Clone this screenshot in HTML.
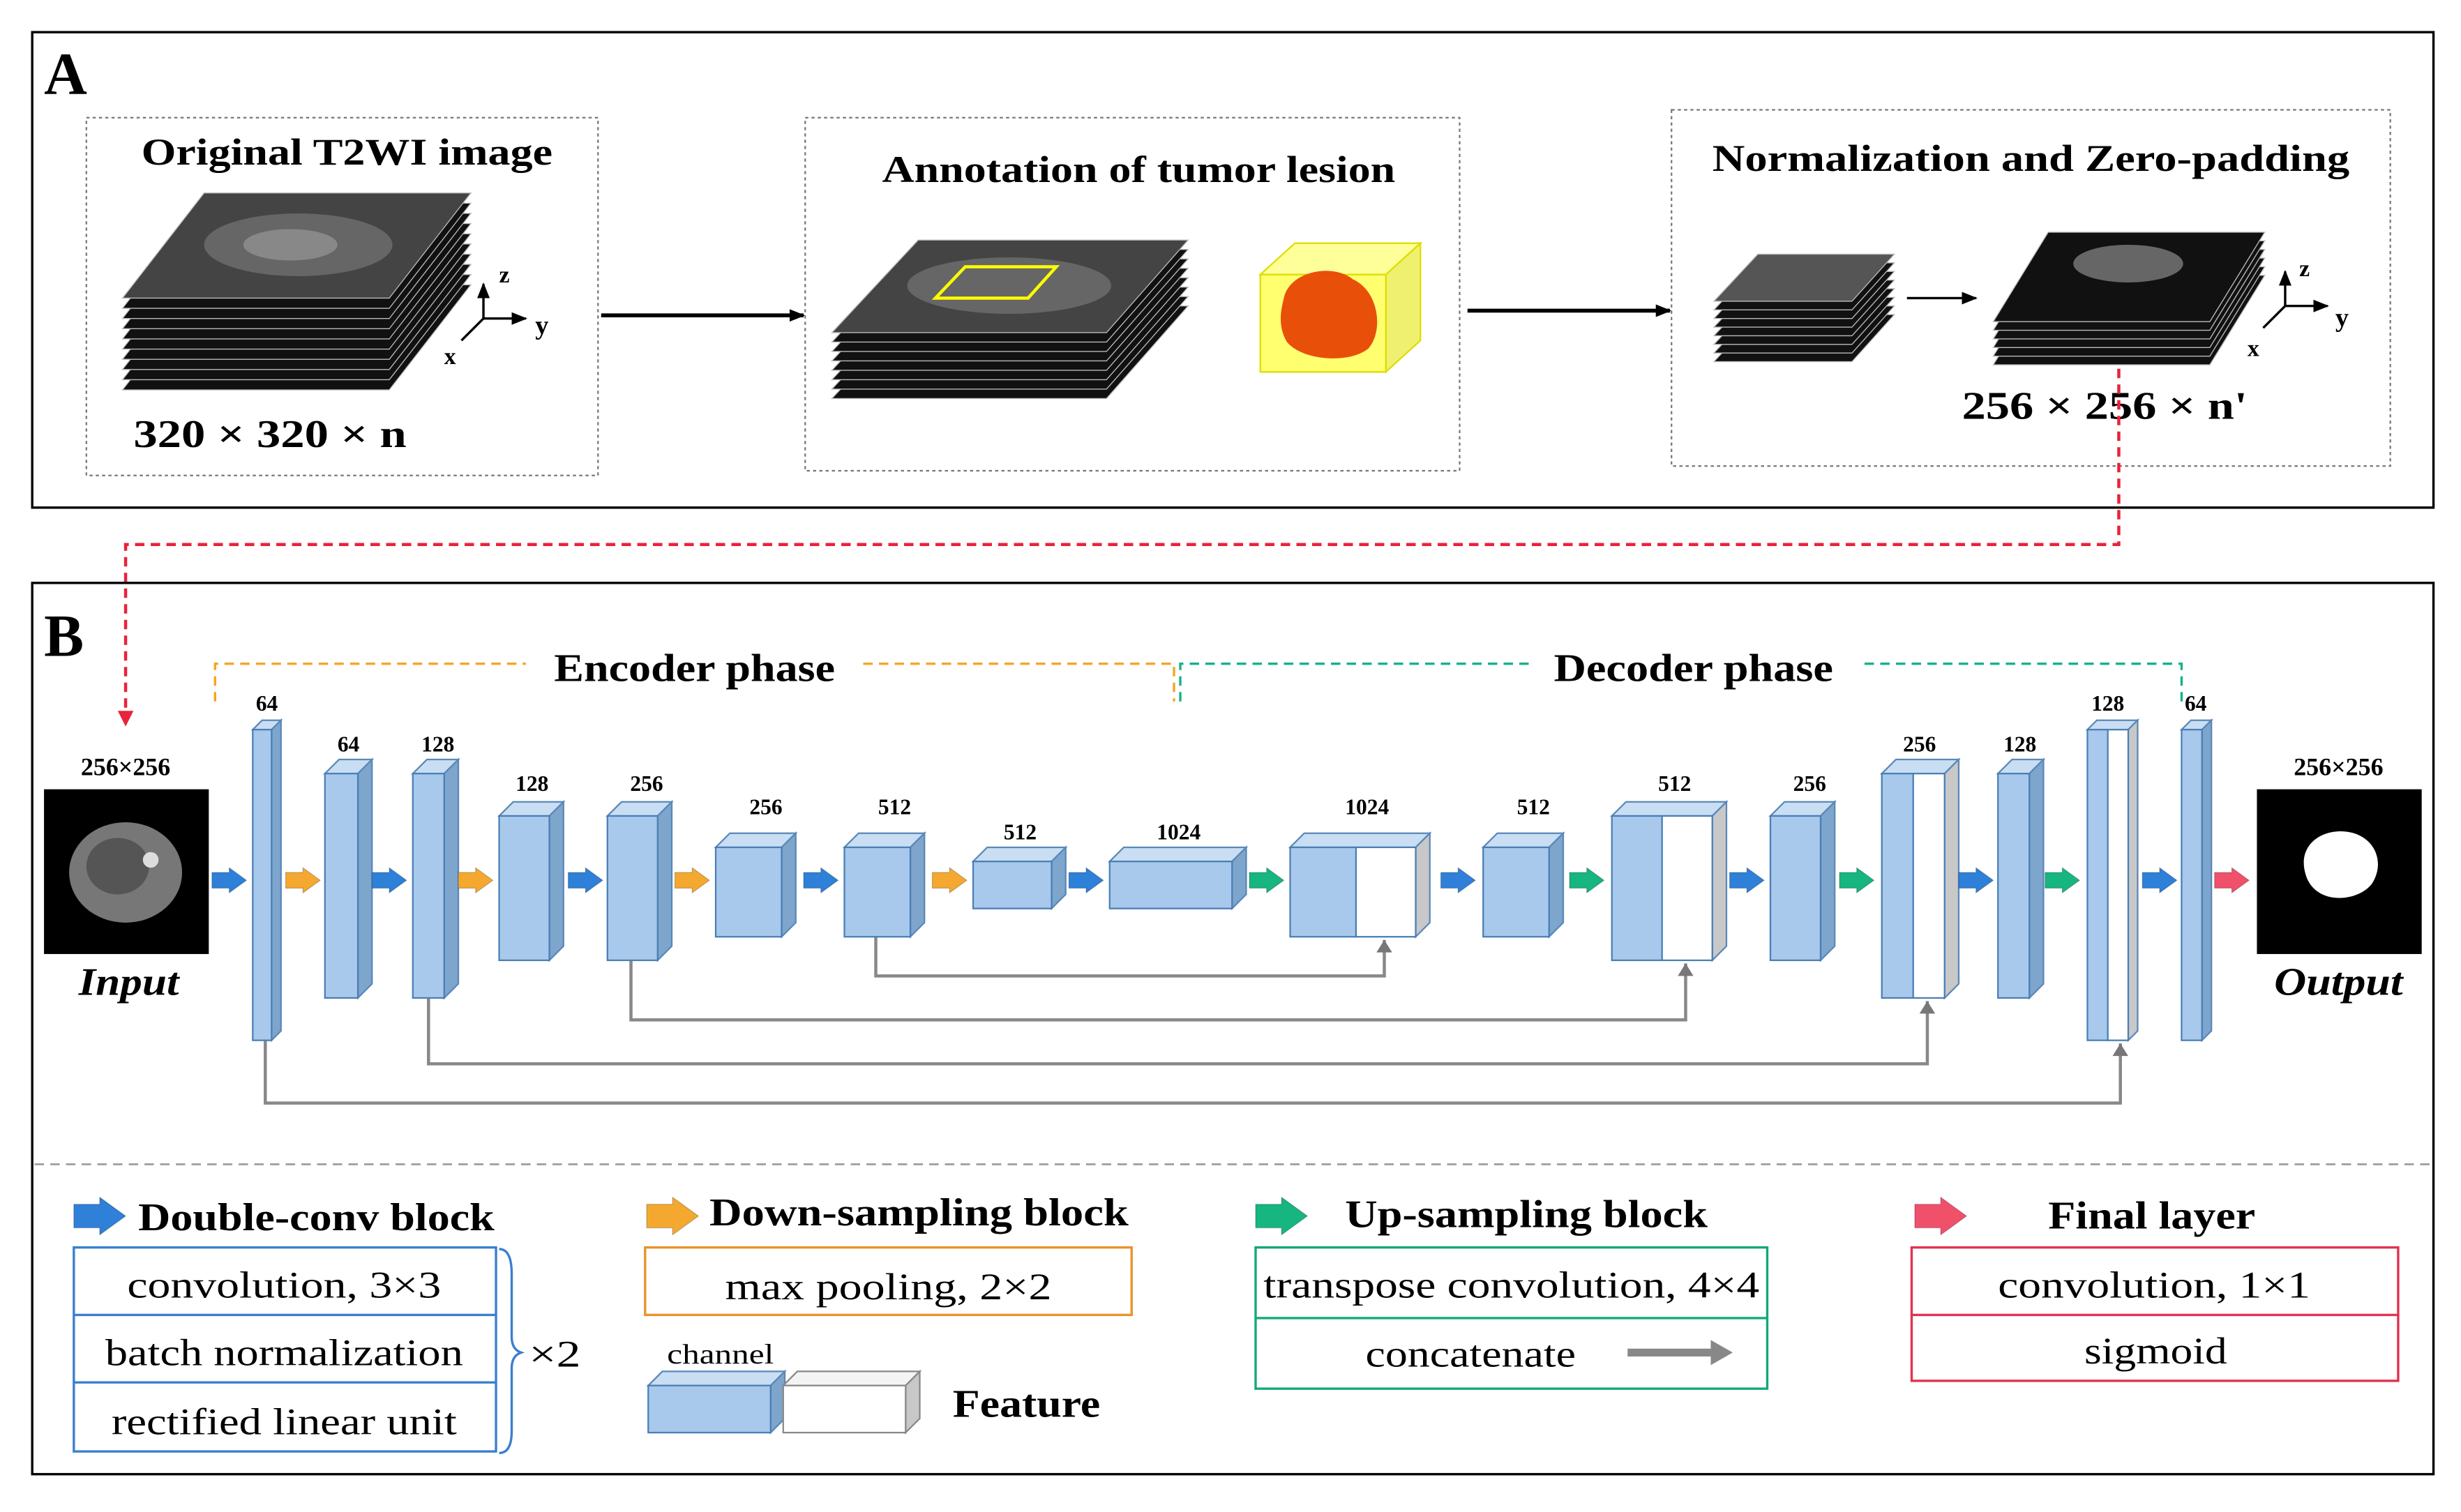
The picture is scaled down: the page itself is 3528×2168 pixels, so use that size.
<!DOCTYPE html>
<html><head><meta charset="utf-8"><style>
html,body{margin:0;padding:0;background:#fff}
svg{display:block}
text{font-family:"Liberation Serif",serif;fill:#000}
.b{font-weight:bold}
</style></head><body>
<svg id="s" width="3528" height="2168" viewBox="0 0 1568 963.6" xmlns="http://www.w3.org/2000/svg">
<defs>
<marker id="ak" markerWidth="10" markerHeight="10" refX="9" refY="5" orient="auto" markerUnits="userSpaceOnUse"><path d="M0,1 L10,5 L0,9z" fill="#000"/></marker>
<marker id="ag" markerWidth="10" markerHeight="10" refX="9" refY="5" orient="auto" markerUnits="userSpaceOnUse"><path d="M1,0 L9,5 L1,10z" fill="#777"/></marker>
<marker id="ar" markerWidth="10" markerHeight="10" refX="9" refY="5" orient="auto" markerUnits="userSpaceOnUse"><path d="M0,0 L10,5 L0,10z" fill="#e8233b"/></marker>
</defs>
<rect width="1568" height="964" fill="#fff"/>
<rect x="20.5" y="20.5" width="1530" height="303" fill="none" stroke="#000" stroke-width="1.5"/>
<text x="28" y="60" class="b" font-size="38">A</text>
<rect x="55" y="75" width="326" height="228" fill="none" stroke="#777" stroke-dasharray="2,2"/>
<rect x="513" y="75" width="417" height="225" fill="none" stroke="#777" stroke-dasharray="2,2"/>
<rect x="1065" y="70" width="458" height="227" fill="none" stroke="#777" stroke-dasharray="2,2"/>
<text x="90" y="105" class="b" font-size="24" textLength="262" lengthAdjust="spacingAndGlyphs">Original T2WI image</text>
<text x="562" y="116" class="b" font-size="24" textLength="327" lengthAdjust="spacingAndGlyphs">Annotation of tumor lesion</text>
<text x="1091" y="109" class="b" font-size="24" textLength="406" lengthAdjust="spacingAndGlyphs">Normalization and Zero-padding</text>
<g id="stacks"></g>
<text x="85" y="285" class="b" font-size="25" textLength="174" lengthAdjust="spacingAndGlyphs">320 × 320 × n</text>
<text x="1250" y="267" class="b" font-size="25" textLength="182" lengthAdjust="spacingAndGlyphs">256 × 256 × n'</text>
<line x1="383" y1="201" x2="512" y2="201" stroke="#000" stroke-width="2.5" marker-end="url(#ak)"/>
<line x1="935" y1="198" x2="1064" y2="198" stroke="#000" stroke-width="2.5" marker-end="url(#ak)"/>
<line x1="1215" y1="190" x2="1259" y2="190" stroke="#000" stroke-width="1.5" marker-end="url(#ak)"/>
<text x="318" y="180" font-size="15" class="b">z</text><text x="341" y="213" font-size="17" class="b">y</text><text x="283" y="232" font-size="15" class="b">x</text>
<text x="1465" y="176" font-size="15" class="b">z</text><text x="1488" y="208" font-size="17" class="b">y</text><text x="1432" y="227" font-size="15" class="b">x</text>
<polyline points="1350,235 1350,347 80,347 80,462" fill="none" stroke="#e8233b" stroke-width="2" stroke-dasharray="6,4" marker-end="url(#ar)"/>
<rect x="20.5" y="371.5" width="1530" height="568" fill="none" stroke="#000" stroke-width="1.5"/>
<text x="28" y="418" class="b" font-size="38">B</text>
<polyline points="137,447 137,423 335,423" fill="none" stroke="#f5a623" stroke-width="1.5" stroke-dasharray="6,4"/>
<polyline points="550,423 748,423 748,447" fill="none" stroke="#f5a623" stroke-width="1.5" stroke-dasharray="6,4"/>
<polyline points="752,447 752,423 975,423" fill="none" stroke="#14b38a" stroke-width="1.5" stroke-dasharray="6,4"/>
<polyline points="1188,423 1390,423 1390,447" fill="none" stroke="#14b38a" stroke-width="1.5" stroke-dasharray="6,4"/>
<text x="353" y="434" class="b" font-size="25" textLength="179" lengthAdjust="spacingAndGlyphs">Encoder phase</text>
<text x="990" y="434" class="b" font-size="25" textLength="178" lengthAdjust="spacingAndGlyphs">Decoder phase</text>
<rect x="28" y="503" width="105" height="105" fill="#000"/>
<ellipse cx="80" cy="556" rx="36" ry="32" fill="#777"/><ellipse cx="75" cy="552" rx="20" ry="18" fill="#555"/><ellipse cx="96" cy="548" rx="5" ry="5" fill="#ddd"/>
<rect x="1438" y="503" width="105" height="105" fill="#000"/>
<path d="M1470,560 C1462,540 1478,528 1495,530 C1512,532 1520,548 1512,562 C1505,574 1478,578 1470,560z" fill="#fff"/>
<text x="80" y="494" class="b" font-size="16" text-anchor="middle">256×256</text>
<text x="1490" y="494" class="b" font-size="16" text-anchor="middle">256×256</text>
<text x="50" y="634" class="b" font-style="italic" font-size="25" textLength="64" lengthAdjust="spacingAndGlyphs">Input</text>
<text x="1449" y="634" class="b" font-style="italic" font-size="25" textLength="82" lengthAdjust="spacingAndGlyphs">Output</text>
<g id="skips" fill="none" stroke="#888" stroke-width="2">
<polyline points="558,597 558,622 882,622 882,599" marker-end="url(#ag)"/>
<polyline points="402,612 402,650 1074,650 1074,614" marker-end="url(#ag)"/>
<polyline points="273,636 273,678 1228,678 1228,638" marker-end="url(#ag)"/>
<polyline points="169,663 169,703 1351,703 1351,665" marker-end="url(#ag)"/>
</g>
<g id="blocks"></g>
<g id="arrows"></g>
<g font-size="14" class="b" text-anchor="middle">
<text x="170" y="453" class="b">64</text><text x="222" y="479" class="b">64</text><text x="279" y="479" class="b">128</text>
<text x="339" y="504" class="b">128</text><text x="412" y="504" class="b">256</text><text x="488" y="519" class="b">256</text>
<text x="570" y="519" class="b">512</text><text x="650" y="535" class="b">512</text><text x="751" y="535" class="b">1024</text>
<text x="871" y="519" class="b">1024</text><text x="977" y="519" class="b">512</text><text x="1067" y="504" class="b">512</text>
<text x="1153" y="504" class="b">256</text><text x="1223" y="479" class="b">256</text><text x="1287" y="479" class="b">128</text>
<text x="1343" y="453" class="b">128</text><text x="1399" y="453" class="b">64</text>
</g>
<line x1="22" y1="742" x2="1548" y2="742" stroke="#999" stroke-width="1.2" stroke-dasharray="6,4"/>
<text x="88" y="784" class="b" font-size="25" textLength="227" lengthAdjust="spacingAndGlyphs">Double-conv block</text>
<text x="452" y="781" class="b" font-size="25" textLength="267" lengthAdjust="spacingAndGlyphs">Down-sampling block</text>
<text x="857" y="782" class="b" font-size="25" textLength="231" lengthAdjust="spacingAndGlyphs">Up-sampling block</text>
<text x="1305" y="783" class="b" font-size="25" textLength="132" lengthAdjust="spacingAndGlyphs">Final layer</text>
<g fill="none" stroke-width="1.5">
<rect x="47" y="795" width="269" height="130" stroke="#3b7fd0"/>
<line x1="47" y1="838" x2="316" y2="838" stroke="#3b7fd0"/><line x1="47" y1="881" x2="316" y2="881" stroke="#3b7fd0"/>
<rect x="411" y="795" width="310" height="43" stroke="#e8932a"/>
<rect x="800" y="795" width="326" height="90" stroke="#14a878"/><line x1="800" y1="840" x2="1126" y2="840" stroke="#14a878"/>
<rect x="1218" y="795" width="310" height="85" stroke="#e0334f"/><line x1="1218" y1="838" x2="1528" y2="838" stroke="#e0334f"/>
<path d="M318,796 Q326,796 326,812 L326,852 Q326,860 332,862 Q326,864 326,872 L326,912 Q326,926 318,926" stroke="#3b7fd0"/>
</g>
<g font-size="24">
<text x="81" y="827" textLength="200" lengthAdjust="spacingAndGlyphs">convolution, 3×3</text>
<text x="67" y="870" textLength="228" lengthAdjust="spacingAndGlyphs">batch normalization</text>
<text x="71" y="914" textLength="220" lengthAdjust="spacingAndGlyphs">rectified linear unit</text>
<text x="462" y="828" textLength="208" lengthAdjust="spacingAndGlyphs">max pooling, 2×2</text>
<text x="805" y="827" textLength="316" lengthAdjust="spacingAndGlyphs">transpose convolution, 4×4</text>
<text x="870" y="871" textLength="134" lengthAdjust="spacingAndGlyphs">concatenate</text>
<text x="1273" y="827" textLength="199" lengthAdjust="spacingAndGlyphs">convolution, 1×1</text>
<text x="1328" y="869" textLength="91" lengthAdjust="spacingAndGlyphs">sigmoid</text>
</g>
<text x="337" y="871" font-size="24" textLength="33" lengthAdjust="spacingAndGlyphs">×2</text>
<text x="425" y="869" font-size="18" textLength="68" lengthAdjust="spacingAndGlyphs">channel</text>
<text x="607" y="903" class="b" font-size="25" textLength="94" lengthAdjust="spacingAndGlyphs">Feature</text>
<line x1="1037" y1="862" x2="1100" y2="862" stroke="#888" stroke-width="5"/>
<path d="M1090,854 L1104,862 L1090,870z" fill="#888"/>
</svg>
<script>
var NS="http://www.w3.org/2000/svg";
function el(p,t,a){var e=document.createElementNS(NS,t);for(var k in a)e.setAttribute(k,a[k]);p.appendChild(e);return e;}
var S=document.getElementById('stacks');
function stack(pts,n,dy,topFill){
 for(var i=n;i>=0;i--){
  var p=pts.map(function(q){return q[0]+","+(q[1]+i*dy)}).join(" ");
  el(S,'polygon',{points:p,fill:i==0?topFill:'#111',stroke:'#bbb','stroke-width':0.6});
 }
}
stack([[78,190],[130,123],[300,123],[248,190]],9,6.5,'#444');
el(S,'ellipse',{cx:190,cy:156,rx:60,ry:20,fill:'#666'});el(S,'ellipse',{cx:185,cy:156,rx:30,ry:10,fill:'#888'});
stack([[530,212],[585,153],[757,153],[705,212]],7,6,'#444');
el(S,'ellipse',{cx:643,cy:182,rx:65,ry:18,fill:'#666'});
el(S,'polygon',{points:"596,190 615,170 673,170 655,190",fill:'none',stroke:'#ff0','stroke-width':2});
el(S,'polygon',{points:"803,175 825,155 905,155 883,175",fill:'#ffff99',stroke:'#dd0'});
el(S,'polygon',{points:"883,175 905,155 905,217 883,237",fill:'#f0f070',stroke:'#dd0'});
el(S,'rect',{x:803,y:175,width:80,height:62,fill:'#ffff70',stroke:'#dd0'});
el(S,'path',{d:"M818,190 C822,172 850,168 862,178 C878,185 882,210 872,222 C860,232 830,230 820,218 C814,208 816,198 818,190z",fill:'#e8500a'});
stack([[1092,192],[1120,162],[1207,162],[1180,192]],7,5.5,'#555');
stack([[1270,205],[1305,148],[1443,148],[1408,205]],5,5.5,'#111');
el(S,'ellipse',{cx:1356,cy:168,rx:35,ry:12,fill:'#666'});
function axes(x,y){el(S,'line',{x1:x,y1:y,x2:x,y2:y-22,stroke:'#000','stroke-width':1.5,'marker-end':'url(#ak)'});
el(S,'line',{x1:x,y1:y,x2:x+27,y2:y,stroke:'#000','stroke-width':1.5,'marker-end':'url(#ak)'});
el(S,'line',{x1:x,y1:y,x2:x-14,y2:y+14,stroke:'#000','stroke-width':1.5});}
axes(308,203);axes(1456,195);
var B=document.getElementById('blocks');
function blk(x,y,w,h,white,ww){
 var d=w<16?6:9;
 var tot=w+(ww||0);
 el(B,'polygon',{points:[x,y,x+d,y-d,x+tot+d,y-d,x+tot,y].join(","),fill:'#c9def3',stroke:'#5a88b8','stroke-width':1});
 el(B,'polygon',{points:[x+tot,y,x+tot+d,y-d,x+tot+d,y+h-d,x+tot,y+h].join(","),fill:white?'#c8c8c8':'#7ea5cc',stroke:'#5a88b8','stroke-width':1});
 el(B,'rect',{x:x,y:y,width:w,height:h,fill:'#a8c9ec',stroke:'#4a7fb5','stroke-width':1});
 if(white){el(B,'rect',{x:x+w,y:y,width:ww,height:h,fill:'#fff',stroke:'#4a7fb5','stroke-width':1});}
}
blk(161,465,12,198);blk(207,493,21,143);blk(263,493,20,143);blk(318,520,32,92);blk(387,520,32,92);
blk(456,540,42,57);blk(538,540,42,57);blk(620,549,50,30);blk(707,549,78,30);
blk(822,540,42,57,1,38);blk(945,540,42,57);blk(1027,520,32,92,1,32);blk(1128,520,32,92);
blk(1199,493,20,143,1,20);blk(1273,493,20,143);blk(1330,465,13,198,1,13);blk(1390,465,13,198);
blk(413,883,78,30);
el(B,'polygon',{points:"499,883 508,874 586,874 577,883",fill:'#f4f4f4',stroke:'#888'});
el(B,'polygon',{points:"577,883 586,874 586,904 577,913",fill:'#c8c8c8',stroke:'#888'});
el(B,'rect',{x:499,y:883,width:78,height:30,fill:'#fff',stroke:'#888'});
var A=document.getElementById('arrows');
var C={b:'#2e80d8',o:'#f5a830',g:'#17b57f',r:'#f0506a'};
function arr(x,y,c,s){s=s||1;var w=22*s,h=16*s,sh=5*s;
 el(A,'polygon',{points:[x,y-sh,x+w*0.5,y-sh,x+w*0.5,y-h/2,x+w,y,x+w*0.5,y+h/2,x+w*0.5,y+sh,x,y+sh].join(","),fill:C[c],stroke:'rgba(0,0,0,0.25)','stroke-width':0.5});}
[[135,'b'],[182,'o'],[237,'b'],[292,'o'],[362,'b'],[430,'o'],[512,'b'],[594,'o'],[681,'b'],[796,'g'],[918,'b'],[1000,'g'],[1102,'b'],[1172,'g'],[1248,'b'],[1303,'g'],[1365,'b'],[1411,'r']].forEach(function(a){arr(a[0],561,a[1]);});
arr(47,775,'b',1.5);arr(412,775,'o',1.5);arr(800,775,'g',1.5);arr(1220,775,'r',1.5);
</script>
</body></html>
